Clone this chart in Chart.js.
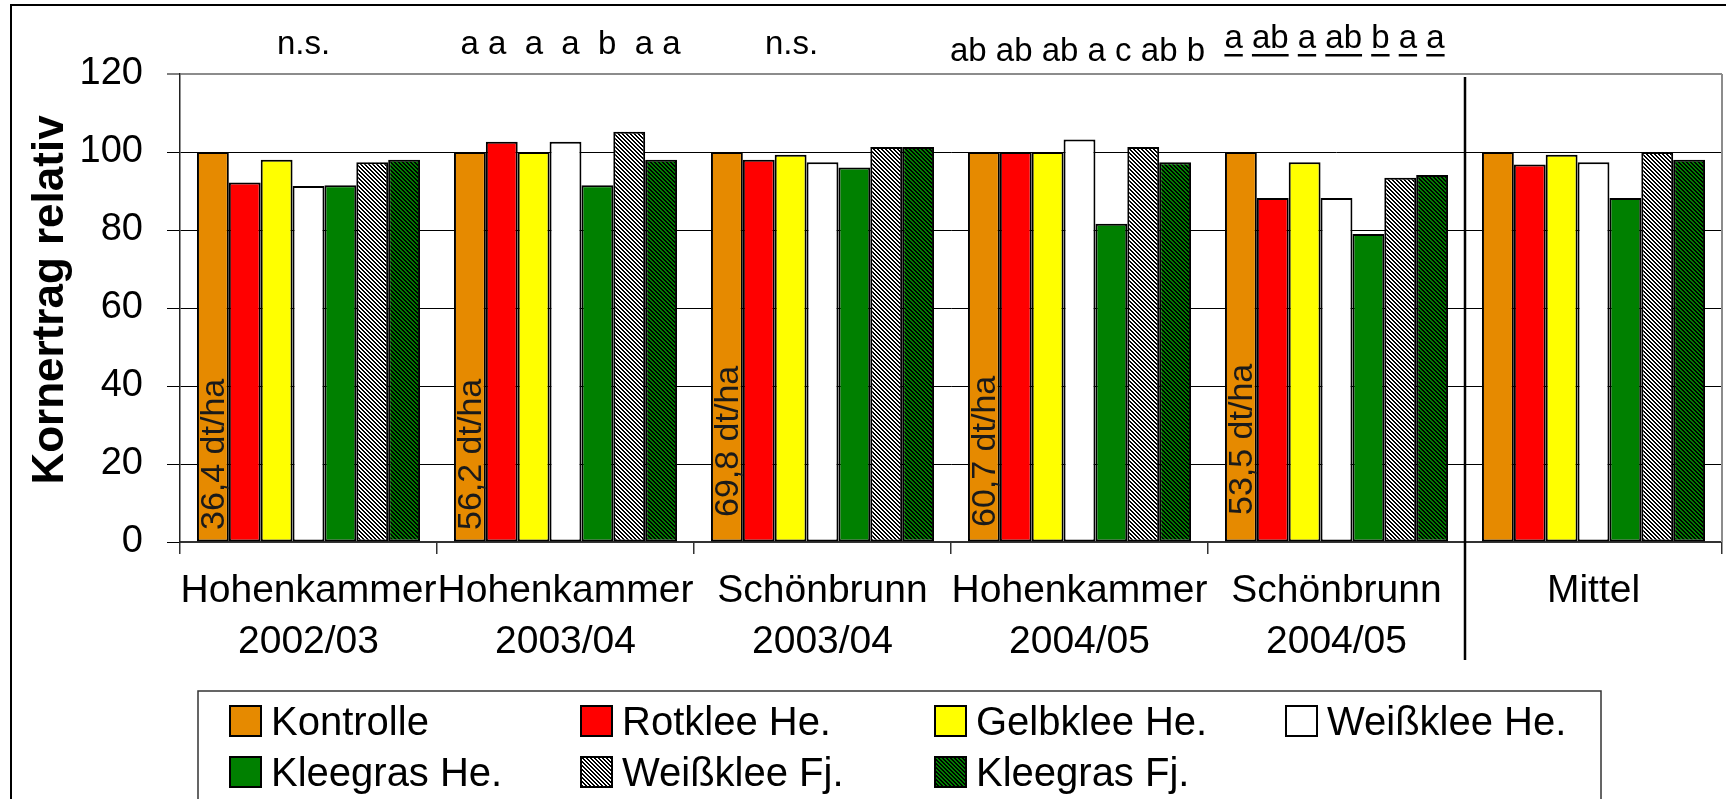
<!DOCTYPE html>
<html>
<head>
<meta charset="utf-8">
<script src="https://cdn.jsdelivr.net/npm/chart.js@4.4.1/dist/chart.umd.min.js"></script>
<style>
  html, body { margin: 0; padding: 0; background: #fff; }
  #wrap { width: 1726px; height: 799px; }
</style>
</head>
<body>
<div id="wrap"><canvas id="grafico" width="1726" height="799"></canvas></div>
<script>
// Daten (relativ zur Kontrolle = 100)
const standorte = [
  ["Hohenkammer", "2002/03"],
  ["Hohenkammer", "2003/04"],
  ["Schönbrunn", "2003/04"],
  ["Hohenkammer", "2004/05"],
  ["Schönbrunn", "2004/05"],
  ["Mittel"]
];
const kontrolle   = [100, 100, 100, 100, 100, 100];
const rotklee     = [92.2, 102.6, 98.0, 100, 88.2, 96.8];
const gelbklee    = [98.0, 100, 99.3, 100, 97.4, 99.3];
const weissklee   = [91.3, 102.6, 97.4, 103.2, 88.2, 97.4];
const kleegrasHe  = [91.5, 91.5, 96.0, 81.6, 79.0, 88.2];
const weisskleeFj = [97.4, 105.2, 101.3, 101.3, 93.4, 100];
const kleegrasFj  = [98.0, 98.0, 101.3, 97.4, 94.1, 98.0];

// absoluter Kornertrag der Kontrolle (dt/ha)
const ertragKontrolle = [36.4, 56.2, 69.8, 60.7, 53.5];

// Signifikanzbuchstaben je Standort
const signifikanz = ["n.s.", "a a  a  a  b  a a", "n.s.", "ab ab ab a c ab b", "a ab a ab b a a", ""];
const unterstrichen = [false, false, false, false, true, false];

const yMin = 0, yMax = 120, yStep = 20;
const yTitel = "Kornertrag relativ";

// Layout (Pixel)
const sigVersatz = [-5, 5, -31, -2, -2, 0];
const sigHoehe = [54, 54, 54, 61, 48, 0];
const dtBasis = [530, 530, 517, 527, 515];
const legSpalten = [230, 581, 935, 1286];
const legZeilen = [735, 786];
const schrift = '"Liberation Sans", Arial, sans-serif';

const canvas = document.getElementById("grafico");
const ctxMain = canvas.getContext("2d");

// Schraffur: diagonale Linien von links oben nach rechts unten
function schraffur(grund, linie) {
  const s = 4;
  const c = document.createElement("canvas");
  c.width = s; c.height = s;
  const g = c.getContext("2d");
  g.fillStyle = grund;
  g.fillRect(0, 0, s, s);
  g.fillStyle = linie;
  for (let py = 0; py < s; py++) {
    for (let px = 0; px < s; px++) {
      if (((px - py) % s + s) % s < 2) g.fillRect(px, py, 1, 1);
    }
  }
  return ctxMain.createPattern(c, "repeat");
}

const musterWeiss = schraffur("#ffffff", "#000000");
const musterGruen = schraffur("#008000", "#000000");

function serie(label, data, farbe) {
  return {
    label: label,
    data: data,
    backgroundColor: farbe,
    borderColor: "#000",
    borderWidth: 2,
    borderSkipped: false,
    categoryPercentage: 0.868,
    barPercentage: 1.0
  };
}

const deko = {
  id: "deko",
  afterDraw(chart) {
    const { ctx, chartArea: a, scales: { x } } = chart;
    ctx.save();

    // rechter Rand der Zeichenfläche
    ctx.strokeStyle = "#8c8c8c";
    ctx.lineWidth = 2;
    ctx.beginPath();
    ctx.moveTo(a.right, a.top);
    ctx.lineTo(a.right, a.bottom);
    ctx.stroke();

    // Trennlinie vor "Mittel"
    const xs = (x.getPixelForValue(4) + x.getPixelForValue(5)) / 2;
    ctx.strokeStyle = "#000";
    ctx.lineWidth = 2.5;
    ctx.beginPath();
    ctx.moveTo(xs, a.top + 3);
    ctx.lineTo(xs, 660);
    ctx.stroke();

    // äußerer Rahmen
    ctx.lineWidth = 2;
    ctx.strokeRect(11, 5, 1760, 820);

    // Achsentitel
    ctx.save();
    ctx.fillStyle = "#000";
    ctx.font = "bold 44px " + schrift;
    ctx.textAlign = "center";
    ctx.textBaseline = "alphabetic";
    ctx.translate(63, 300);
    ctx.rotate(-Math.PI / 2);
    ctx.fillText(yTitel, 0, 0);
    ctx.restore();

    // Signifikanzbuchstaben
    ctx.font = "33px " + schrift;
    ctx.fillStyle = "#000";
    ctx.textAlign = "left";
    ctx.textBaseline = "alphabetic";
    signifikanz.forEach((t, i) => {
      if (!t) return;
      const w = ctx.measureText(t).width;
      const x0 = x.getPixelForValue(i) + sigVersatz[i] - w / 2;
      const by = sigHoehe[i];
      ctx.fillText(t, x0, by);
      if (unterstrichen[i]) {
        const re = /\S+/g;
        let m;
        while ((m = re.exec(t)) !== null) {
          const vx = ctx.measureText(t.slice(0, m.index)).width;
          const tw = ctx.measureText(m[0]).width;
          ctx.fillRect(x0 + vx, by + 6, tw, 2.5);
        }
      }
    });

    // Ertrag der Kontrolle in den Balken
    ctx.font = "34px " + schrift;
    ctx.fillStyle = "#1a1a1a";
    const meta = chart.getDatasetMeta(0);
    ertragKontrolle.forEach((v, i) => {
      const bar = meta.data[i];
      ctx.save();
      ctx.translate(bar.x + 11, dtBasis[i]);
      ctx.rotate(-Math.PI / 2);
      ctx.fillText(v.toFixed(1).replace(".", ",") + " dt/ha", 0, 0);
      ctx.restore();
    });

    // Legende
    ctx.strokeStyle = "#333";
    ctx.lineWidth = 1.5;
    ctx.strokeRect(198, 691, 1403, 140);
    ctx.font = "40px " + schrift;
    chart.data.datasets.forEach((ds, i) => {
      const sx = legSpalten[i % 4];
      const by = legZeilen[Math.floor(i / 4)];
      ctx.fillStyle = ds.backgroundColor;
      ctx.fillRect(sx, by - 29, 31, 30);
      ctx.strokeStyle = "#000";
      ctx.lineWidth = 2;
      ctx.strokeRect(sx, by - 29, 31, 30);
      ctx.fillStyle = "#000";
      ctx.fillText(ds.label, sx + 41, by);
    });

    ctx.restore();
  }
};

new Chart(ctxMain, {
  type: "bar",
  data: {
    labels: standorte,
    datasets: [
      serie("Kontrolle", kontrolle, "#e68a00"),
      serie("Rotklee He.", rotklee, "#ff0000"),
      serie("Gelbklee He.", gelbklee, "#ffff00"),
      serie("Weißklee He.", weissklee, "#ffffff"),
      serie("Kleegras He.", kleegrasHe, "#008000"),
      serie("Weißklee Fj.", weisskleeFj, musterWeiss),
      serie("Kleegras Fj.", kleegrasFj, musterGruen)
    ]
  },
  options: {
    responsive: false,
    animation: false,
    layout: { padding: { left: 0, right: 4, top: 74, bottom: 117 } },
    plugins: {
      legend: { display: false },
      tooltip: { enabled: false }
    },
    scales: {
      x: {
        grid: {
          drawOnChartArea: false,
          drawTicks: true,
          tickLength: 12,
          color: "#333",
          lineWidth: 1.5
        },
        border: { display: true, color: "#333", width: 2 },
        ticks: {
          color: "#000",
          padding: 12,
          maxRotation: 0,
          autoSkip: false,
          font: { family: schrift, size: 39, lineHeight: 1.31 }
        },
        afterFit(scale) { scale.height = 140; }
      },
      y: {
        min: yMin,
        max: yMax,
        ticks: {
          stepSize: yStep,
          color: "#000",
          padding: 24,
          font: { family: schrift, size: 38 }
        },
        grid: {
          color: (c) => (c.tick && c.tick.value === yMax ? "#8c8c8c" : "#000"),
          lineWidth: (c) => (c.tick && c.tick.value === yMax ? 2 : 1),
          tickColor: "#000",
          tickWidth: 1,
          tickLength: 13
        },
        border: { display: true, color: "#222", width: 1.5 },
        afterFit(scale) { scale.width = 180; }
      }
    }
  },
  plugins: [deko]
});
</script>
</body>
</html>
